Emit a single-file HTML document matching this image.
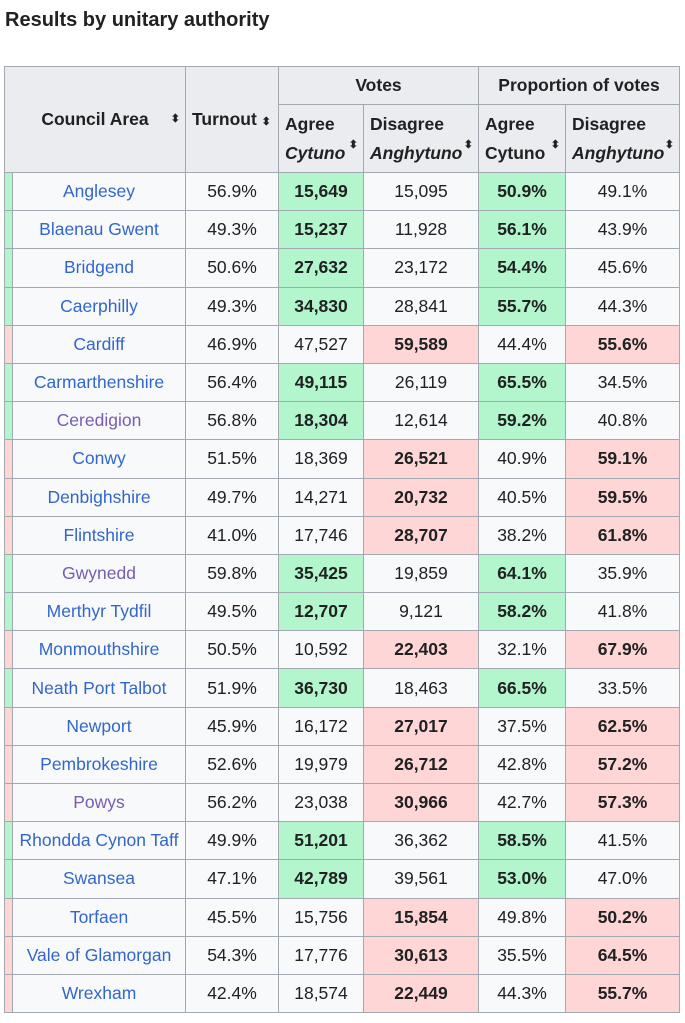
<!DOCTYPE html><html><head><meta charset="utf-8"><style>
body{margin:0;background:#fff;font-family:"Liberation Sans",sans-serif;color:#202122;}
h3{position:absolute;left:5px;top:9px;margin:0;font-size:20px;font-weight:bold;}
table{position:absolute;left:4px;top:66px;border-collapse:collapse;table-layout:fixed;font-size:17.5px;}
td,th{border:1px solid #a2a9b1;padding:0 6px;}
th{background:#eaecf0;font-weight:bold;text-align:center;position:relative;}
td{background:#f8f9fa;height:37.2px;text-align:center;padding:0}
td.n{text-align:center;color:#36c;padding:0}
td.v{color:#795cb2}
td.s{padding:0}
.g{background:#b3f5cd}.p{background:#ffd6d6}
b{font-weight:bold}
.ar{font-size:11px;position:absolute;right:5px}
i{font-weight:bold}
</style></head><body>
<h3>Results by unitary authority</h3>
<table>
<colgroup><col style="width:8px"><col style="width:173px"><col style="width:93px"><col style="width:85px"><col style="width:115px"><col style="width:87px"><col style="width:114px"></colgroup>
<tr style="height:38px"><th colspan="2" rowspan="2">Council Area<span class="ar" style="top:45px">⬍</span></th><th rowspan="2" style="text-align:left">Turnout <span style="font-size:11px">⬍</span></th><th colspan="2">Votes</th><th colspan="2">Proportion of votes</th></tr>
<tr style="height:68px"><th style="text-align:left;line-height:29px">Agree<br><i>Cytuno</i><span class="ar" style="top:26px">⬍</span></th><th style="text-align:left;line-height:29px">Disagree<br><i>Anghytuno</i><span class="ar" style="top:26px">⬍</span></th><th style="text-align:left;line-height:29px">Agree<br>Cytuno<span class="ar" style="top:26px">⬍</span></th><th style="text-align:left;line-height:29px">Disagree<br><i>Anghytuno</i><span class="ar" style="top:26px">⬍</span></th></tr>
<tr><td class="s g"></td><td class="n">Anglesey</td><td>56.9%</td><td class="g"><b>15,649</b></td><td>15,095</td><td class="g"><b>50.9%</b></td><td>49.1%</td></tr>
<tr><td class="s g"></td><td class="n">Blaenau Gwent</td><td>49.3%</td><td class="g"><b>15,237</b></td><td>11,928</td><td class="g"><b>56.1%</b></td><td>43.9%</td></tr>
<tr><td class="s g"></td><td class="n">Bridgend</td><td>50.6%</td><td class="g"><b>27,632</b></td><td>23,172</td><td class="g"><b>54.4%</b></td><td>45.6%</td></tr>
<tr><td class="s g"></td><td class="n">Caerphilly</td><td>49.3%</td><td class="g"><b>34,830</b></td><td>28,841</td><td class="g"><b>55.7%</b></td><td>44.3%</td></tr>
<tr><td class="s p"></td><td class="n">Cardiff</td><td>46.9%</td><td>47,527</td><td class="p"><b>59,589</b></td><td>44.4%</td><td class="p"><b>55.6%</b></td></tr>
<tr><td class="s g"></td><td class="n">Carmarthenshire</td><td>56.4%</td><td class="g"><b>49,115</b></td><td>26,119</td><td class="g"><b>65.5%</b></td><td>34.5%</td></tr>
<tr><td class="s g"></td><td class="n v">Ceredigion</td><td>56.8%</td><td class="g"><b>18,304</b></td><td>12,614</td><td class="g"><b>59.2%</b></td><td>40.8%</td></tr>
<tr><td class="s p"></td><td class="n">Conwy</td><td>51.5%</td><td>18,369</td><td class="p"><b>26,521</b></td><td>40.9%</td><td class="p"><b>59.1%</b></td></tr>
<tr><td class="s p"></td><td class="n">Denbighshire</td><td>49.7%</td><td>14,271</td><td class="p"><b>20,732</b></td><td>40.5%</td><td class="p"><b>59.5%</b></td></tr>
<tr><td class="s p"></td><td class="n">Flintshire</td><td>41.0%</td><td>17,746</td><td class="p"><b>28,707</b></td><td>38.2%</td><td class="p"><b>61.8%</b></td></tr>
<tr><td class="s g"></td><td class="n v">Gwynedd</td><td>59.8%</td><td class="g"><b>35,425</b></td><td>19,859</td><td class="g"><b>64.1%</b></td><td>35.9%</td></tr>
<tr><td class="s g"></td><td class="n">Merthyr Tydfil</td><td>49.5%</td><td class="g"><b>12,707</b></td><td>9,121</td><td class="g"><b>58.2%</b></td><td>41.8%</td></tr>
<tr><td class="s p"></td><td class="n">Monmouthshire</td><td>50.5%</td><td>10,592</td><td class="p"><b>22,403</b></td><td>32.1%</td><td class="p"><b>67.9%</b></td></tr>
<tr><td class="s g"></td><td class="n">Neath Port Talbot</td><td>51.9%</td><td class="g"><b>36,730</b></td><td>18,463</td><td class="g"><b>66.5%</b></td><td>33.5%</td></tr>
<tr><td class="s p"></td><td class="n">Newport</td><td>45.9%</td><td>16,172</td><td class="p"><b>27,017</b></td><td>37.5%</td><td class="p"><b>62.5%</b></td></tr>
<tr><td class="s p"></td><td class="n">Pembrokeshire</td><td>52.6%</td><td>19,979</td><td class="p"><b>26,712</b></td><td>42.8%</td><td class="p"><b>57.2%</b></td></tr>
<tr><td class="s p"></td><td class="n v">Powys</td><td>56.2%</td><td>23,038</td><td class="p"><b>30,966</b></td><td>42.7%</td><td class="p"><b>57.3%</b></td></tr>
<tr><td class="s g"></td><td class="n">Rhondda Cynon Taff</td><td>49.9%</td><td class="g"><b>51,201</b></td><td>36,362</td><td class="g"><b>58.5%</b></td><td>41.5%</td></tr>
<tr><td class="s g"></td><td class="n">Swansea</td><td>47.1%</td><td class="g"><b>42,789</b></td><td>39,561</td><td class="g"><b>53.0%</b></td><td>47.0%</td></tr>
<tr><td class="s p"></td><td class="n">Torfaen</td><td>45.5%</td><td>15,756</td><td class="p"><b>15,854</b></td><td>49.8%</td><td class="p"><b>50.2%</b></td></tr>
<tr><td class="s p"></td><td class="n">Vale of Glamorgan</td><td>54.3%</td><td>17,776</td><td class="p"><b>30,613</b></td><td>35.5%</td><td class="p"><b>64.5%</b></td></tr>
<tr><td class="s p"></td><td class="n">Wrexham</td><td>42.4%</td><td>18,574</td><td class="p"><b>22,449</b></td><td>44.3%</td><td class="p"><b>55.7%</b></td></tr>
</table>
</body></html>
